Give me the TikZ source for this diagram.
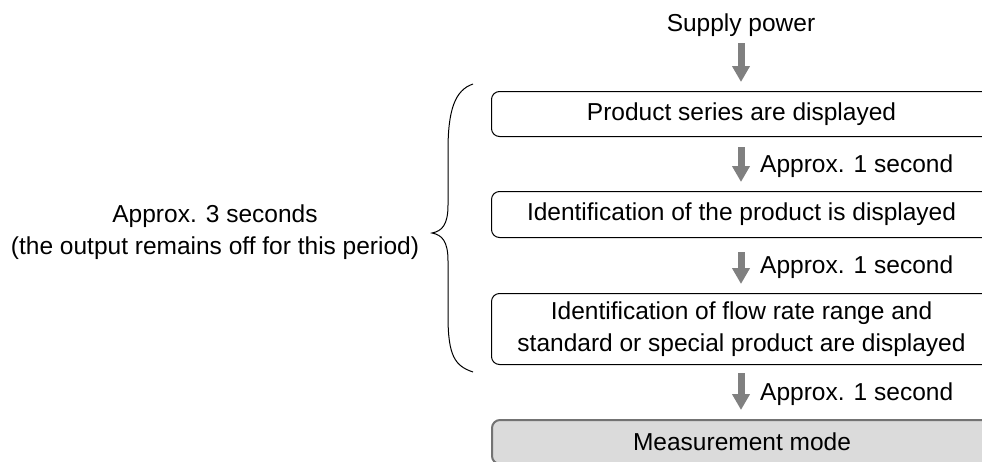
\documentclass[tikz,border=0pt]{standalone}
\usepackage{fontspec}
\setmainfont{Liberation Sans}
\usetikzlibrary{arrows.meta}
\begin{document}
\begin{tikzpicture}[x=1pt,y=-1pt,
  txt/.style={font=\fontsize{24.5}{32}\selectfont, inner sep=0pt, align=center},
  stepbox/.style={draw=black, line width=1pt, rounded corners=8pt, minimum width=500pt, inner sep=0pt, anchor=north west},
  finalbox/.style={draw=black!55, fill=black!14, line width=2pt, rounded corners=8pt, minimum width=500pt, inner sep=0pt, anchor=north west},
  flow/.style={draw=black!50, line width=7pt, -{Triangle[width=17pt,length=16pt]}},
  lab/.style={font=\fontsize{24.5}{32}\selectfont, inner sep=0pt, anchor=base west}]
\useasboundingbox (0,0) rectangle (982,461);
\clip (0,0) rectangle (982,461);
\node[txt, anchor=base] (sup) at (741,31) {Supply power};
\node[stepbox, minimum height=45pt, txt] (b1) at (491,91) {Product series are displayed};
\node[stepbox, minimum height=46pt, txt] (b2) at (491,191) {Identification of the product is displayed};
\node[stepbox, minimum height=71pt, txt] (b3) at (491,293) {Identification of flow rate range and\\standard or special product are displayed};
\node[finalbox, minimum height=44pt, txt] (b4) at (491,419) {Measurement mode};
\coordinate (a1s) at (741,43); \coordinate (a1e) at (741,82);
\coordinate (a2s) at (741,147); \coordinate (a2e) at (741,182);
\coordinate (a3s) at (741,252); \coordinate (a3e) at (741,284);
\coordinate (a4s) at (741,373); \coordinate (a4e) at (741,410);
\draw[flow] (a1s) -- (a1e);
\draw[flow] (a2s) -- (a2e);
\draw[flow] (a3s) -- (a3e);
\draw[flow] (a4s) -- (a4e);
\node[lab] (l2) at (760,172) {Approx. 1 second};
\node[lab] (l3) at (760,273) {Approx. 1 second};
\node[lab] (l4) at (760,400) {Approx. 1 second};
\node[txt] (left) at (215,232) {Approx. 3 seconds\\(the output remains off for this period)};
\draw[line width=1pt] (473,84) .. controls (455,90) and (448,110) .. (448,150)
  -- (448,205) .. controls (448,225) and (442,231) .. (432,233)
  .. controls (442,235) and (448,241) .. (448,261)
  -- (448,316) .. controls (448,356) and (455,366) .. (473,372);
\end{tikzpicture}
\end{document}
